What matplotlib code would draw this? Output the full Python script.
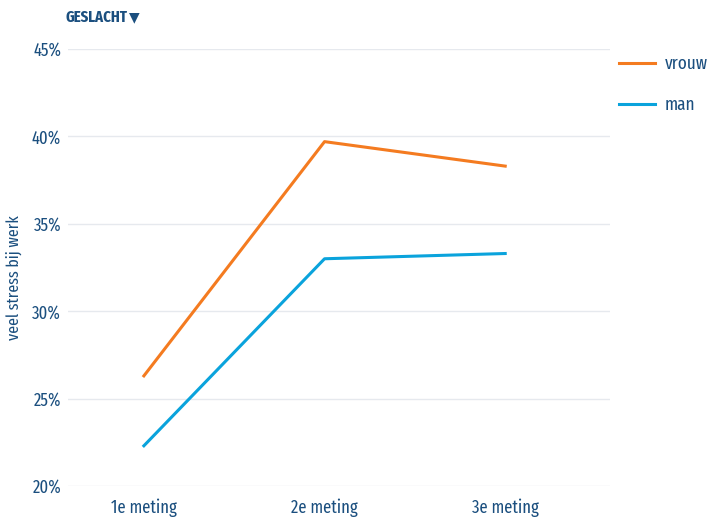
import matplotlib
matplotlib.use('Agg')
import matplotlib.pyplot as plt
from matplotlib import font_manager

# data
metingen = ['1e meting', '2e meting', '3e meting']
vrouw = [26.3, 39.7, 38.3]
man = [22.3, 33.0, 33.3]
y_ticks = [20, 25, 30, 35, 40, 45]

names = {f.name for f in font_manager.fontManager.ttflist}
family = 'DejaVu Sans'
for cand in ['Fira Sans Extra Condensed', 'Fira Sans Condensed', 'Barlow Semi Condensed', 'Roboto']:
    if cand in names:
        family = cand
        break
plt.rcParams['font.family'] = [family, 'DejaVu Sans']

text_col = '#1b4f7f'
orange = '#f47b20'
blue = '#0aa3dc'

fig = plt.figure(figsize=(7.08, 5.19), dpi=100)
ax = fig.add_axes([68 / 708, 1 - 486 / 519, (610 - 68) / 708, (486 - 49) / 519])

x = range(len(metingen))
ax.plot(x, vrouw, color=orange, lw=2.2, label='vrouw')
ax.plot(x, man, color=blue, lw=2.2, label='man')

ax.set_xlim(-0.42, 2.58)
ax.set_ylim(20, 45)
ax.set_yticks(y_ticks)
ax.set_yticklabels([f'{t}%' for t in y_ticks])
ax.set_xticks(list(x))
ax.set_xticklabels(metingen)
ax.grid(axis='y', color='#e6e9ee', lw=1)
ax.set_axisbelow(True)
for s in ax.spines.values():
    s.set_visible(False)
ax.tick_params(length=0, labelsize=13, colors=text_col)
ax.tick_params(axis='x', pad=9)
ax.tick_params(axis='y', pad=5)

ax.set_ylabel('veel stress bij werk', fontsize=12.5, color=text_col)
ax.yaxis.set_label_coords(-0.084, 0.476)

fig.text(66 / 708, 1 - 17 / 519, 'GESLACHT', fontsize=11.5, fontweight='bold',
         color=text_col, va='center', ha='left')
fig.text(129 / 708, 1 - 17.5 / 519, '\u25bc', fontsize=10, family='DejaVu Sans',
         color=text_col, va='center', ha='left')

leg = fig.legend(loc='upper left', bbox_to_anchor=(619 / 708, 1 - 55 / 519),
                 frameon=False, fontsize=13.5, handlelength=1.9, handletextpad=0.55,
                 labelspacing=1.25, borderpad=0, borderaxespad=0)
for t in leg.get_texts():
    t.set_color(text_col)

fig.savefig('out.png', dpi=100)
